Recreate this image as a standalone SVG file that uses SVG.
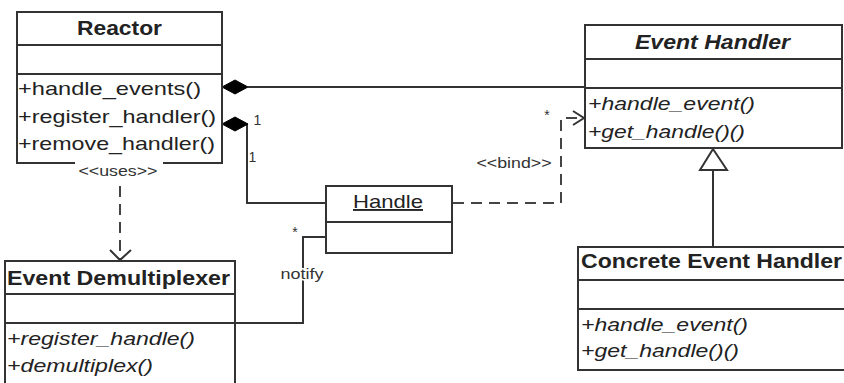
<svg xmlns="http://www.w3.org/2000/svg" width="844" height="383" viewBox="0 0 844 383">
<style>
.box{fill:#fff;stroke:#333;stroke-width:2}
.div{stroke:#333;stroke-width:2;fill:none}
.t{font-family:"Liberation Sans",Arial,sans-serif;font-size:19px;fill:#222}
.b{font-weight:bold;font-size:21px}
.i{font-style:italic}
.ln{fill:none;stroke:#333;stroke-width:2}
.dash{fill:none;stroke:#444;stroke-width:2;stroke-dasharray:11,7}
.lbl{font-family:"Liberation Sans",Arial,sans-serif;font-size:14px;fill:#333}
.dia{fill:#000;stroke:#000;stroke-width:1}
</style>
<rect width="844" height="383" fill="#fff"/>

<g id="connectors">
  <path class="ln" d="M248,87 H585"/>
  <path class="dia" d="M222,87 L235,80 L248,87 L235,94 Z"/>
  <path class="ln" d="M247,124 V203 H326"/>
  <path class="dia" d="M222,124 L235,117 L248,124 L235,131 Z"/>
  <path class="dash" d="M453,203 H561 V118 H582"/>
  <path class="ln" d="M573,111 L584,118 L573,125"/>
  <path class="dash" d="M120,186 V259"/>
  <path class="ln" d="M110,250 L120,260 L131,250"/>
  <path class="ln" d="M326,237 H303 V323 H235"/>
  <path class="ln" d="M713,247 V170"/>
  <path class="box" d="M713,149 L700,170 L727,170 Z"/>
  <text class="lbl" x="257.5" y="125" font-size="16" text-anchor="middle">1</text>
  <text class="lbl" x="252.5" y="162" font-size="16" text-anchor="middle">1</text>
  <text class="lbl" x="547" y="120" font-size="12" text-anchor="middle">*</text>
  <text class="lbl" x="295" y="237" font-size="12" text-anchor="middle">*</text>
  <text class="lbl" x="514" y="168" text-anchor="middle" textLength="75" lengthAdjust="spacingAndGlyphs">&lt;&lt;bind&gt;&gt;</text>
  <text class="lbl" x="302" y="279" text-anchor="middle" textLength="43" lengthAdjust="spacingAndGlyphs" stroke="#fff" stroke-width="3" paint-order="stroke">notify</text>
</g>

<g id="reactor">
  <rect class="box" x="17" y="12" width="205" height="151"/>
  <path class="div" d="M17,45 H222 M17,74 H222"/>
  <text class="t b" x="119.5" y="35" text-anchor="middle" textLength="85" lengthAdjust="spacingAndGlyphs">Reactor</text>
  <text class="t" x="18" y="95" textLength="183" lengthAdjust="spacingAndGlyphs">+handle_events()</text>
  <text class="t" x="18" y="123" textLength="198" lengthAdjust="spacingAndGlyphs">+register_handler()</text>
  <text class="t" x="18" y="150" textLength="197" lengthAdjust="spacingAndGlyphs">+remove_handler()</text>
  <rect x="75" y="160" width="88" height="8" fill="#fff"/>
  <text class="lbl" x="118" y="176" text-anchor="middle" textLength="79" lengthAdjust="spacingAndGlyphs">&lt;&lt;uses&gt;&gt;</text>
</g>

<g id="event-handler">
  <rect class="box" x="585" y="25" width="257" height="123"/>
  <path class="div" d="M585,59 H842 M585,88 H842"/>
  <text class="t b i" x="712.5" y="49" text-anchor="middle" textLength="155" lengthAdjust="spacingAndGlyphs">Event Handler</text>
  <text class="t i" x="588" y="110" textLength="167" lengthAdjust="spacingAndGlyphs">+handle_event()</text>
  <text class="t i" x="588" y="138" textLength="157" lengthAdjust="spacingAndGlyphs">+get_handle()()</text>
</g>

<g id="handle">
  <rect class="box" x="326" y="186" width="126" height="67"/>
  <path class="div" d="M326,222 H452"/>
  <text class="t" x="388" y="208" text-anchor="middle" text-decoration="underline" textLength="70" lengthAdjust="spacingAndGlyphs">Handle</text>
</g>

<g id="event-demultiplexer">
  <rect class="box" x="5" y="261" width="230" height="130"/>
  <path class="div" d="M5,294 H235 M5,323 H235"/>
  <text class="t b" x="118.5" y="285" text-anchor="middle" textLength="223" lengthAdjust="spacingAndGlyphs">Event Demultiplexer</text>
  <text class="t i" x="7" y="345" textLength="188" lengthAdjust="spacingAndGlyphs">+register_handle()</text>
  <text class="t i" x="7" y="372" textLength="146" lengthAdjust="spacingAndGlyphs">+demultiplex()</text>
</g>

<g id="concrete-event-handler">
  <rect class="box" x="578" y="247" width="280" height="123"/>
  <path class="div" d="M578,280 H858 M578,309 H858"/>
  <text class="t b" x="581" y="268" textLength="261" lengthAdjust="spacingAndGlyphs">Concrete Event Handler</text>
  <text class="t i" x="581" y="331" textLength="167" lengthAdjust="spacingAndGlyphs">+handle_event()</text>
  <text class="t i" x="581" y="357" textLength="158" lengthAdjust="spacingAndGlyphs">+get_handle()()</text>
</g>
</svg>
